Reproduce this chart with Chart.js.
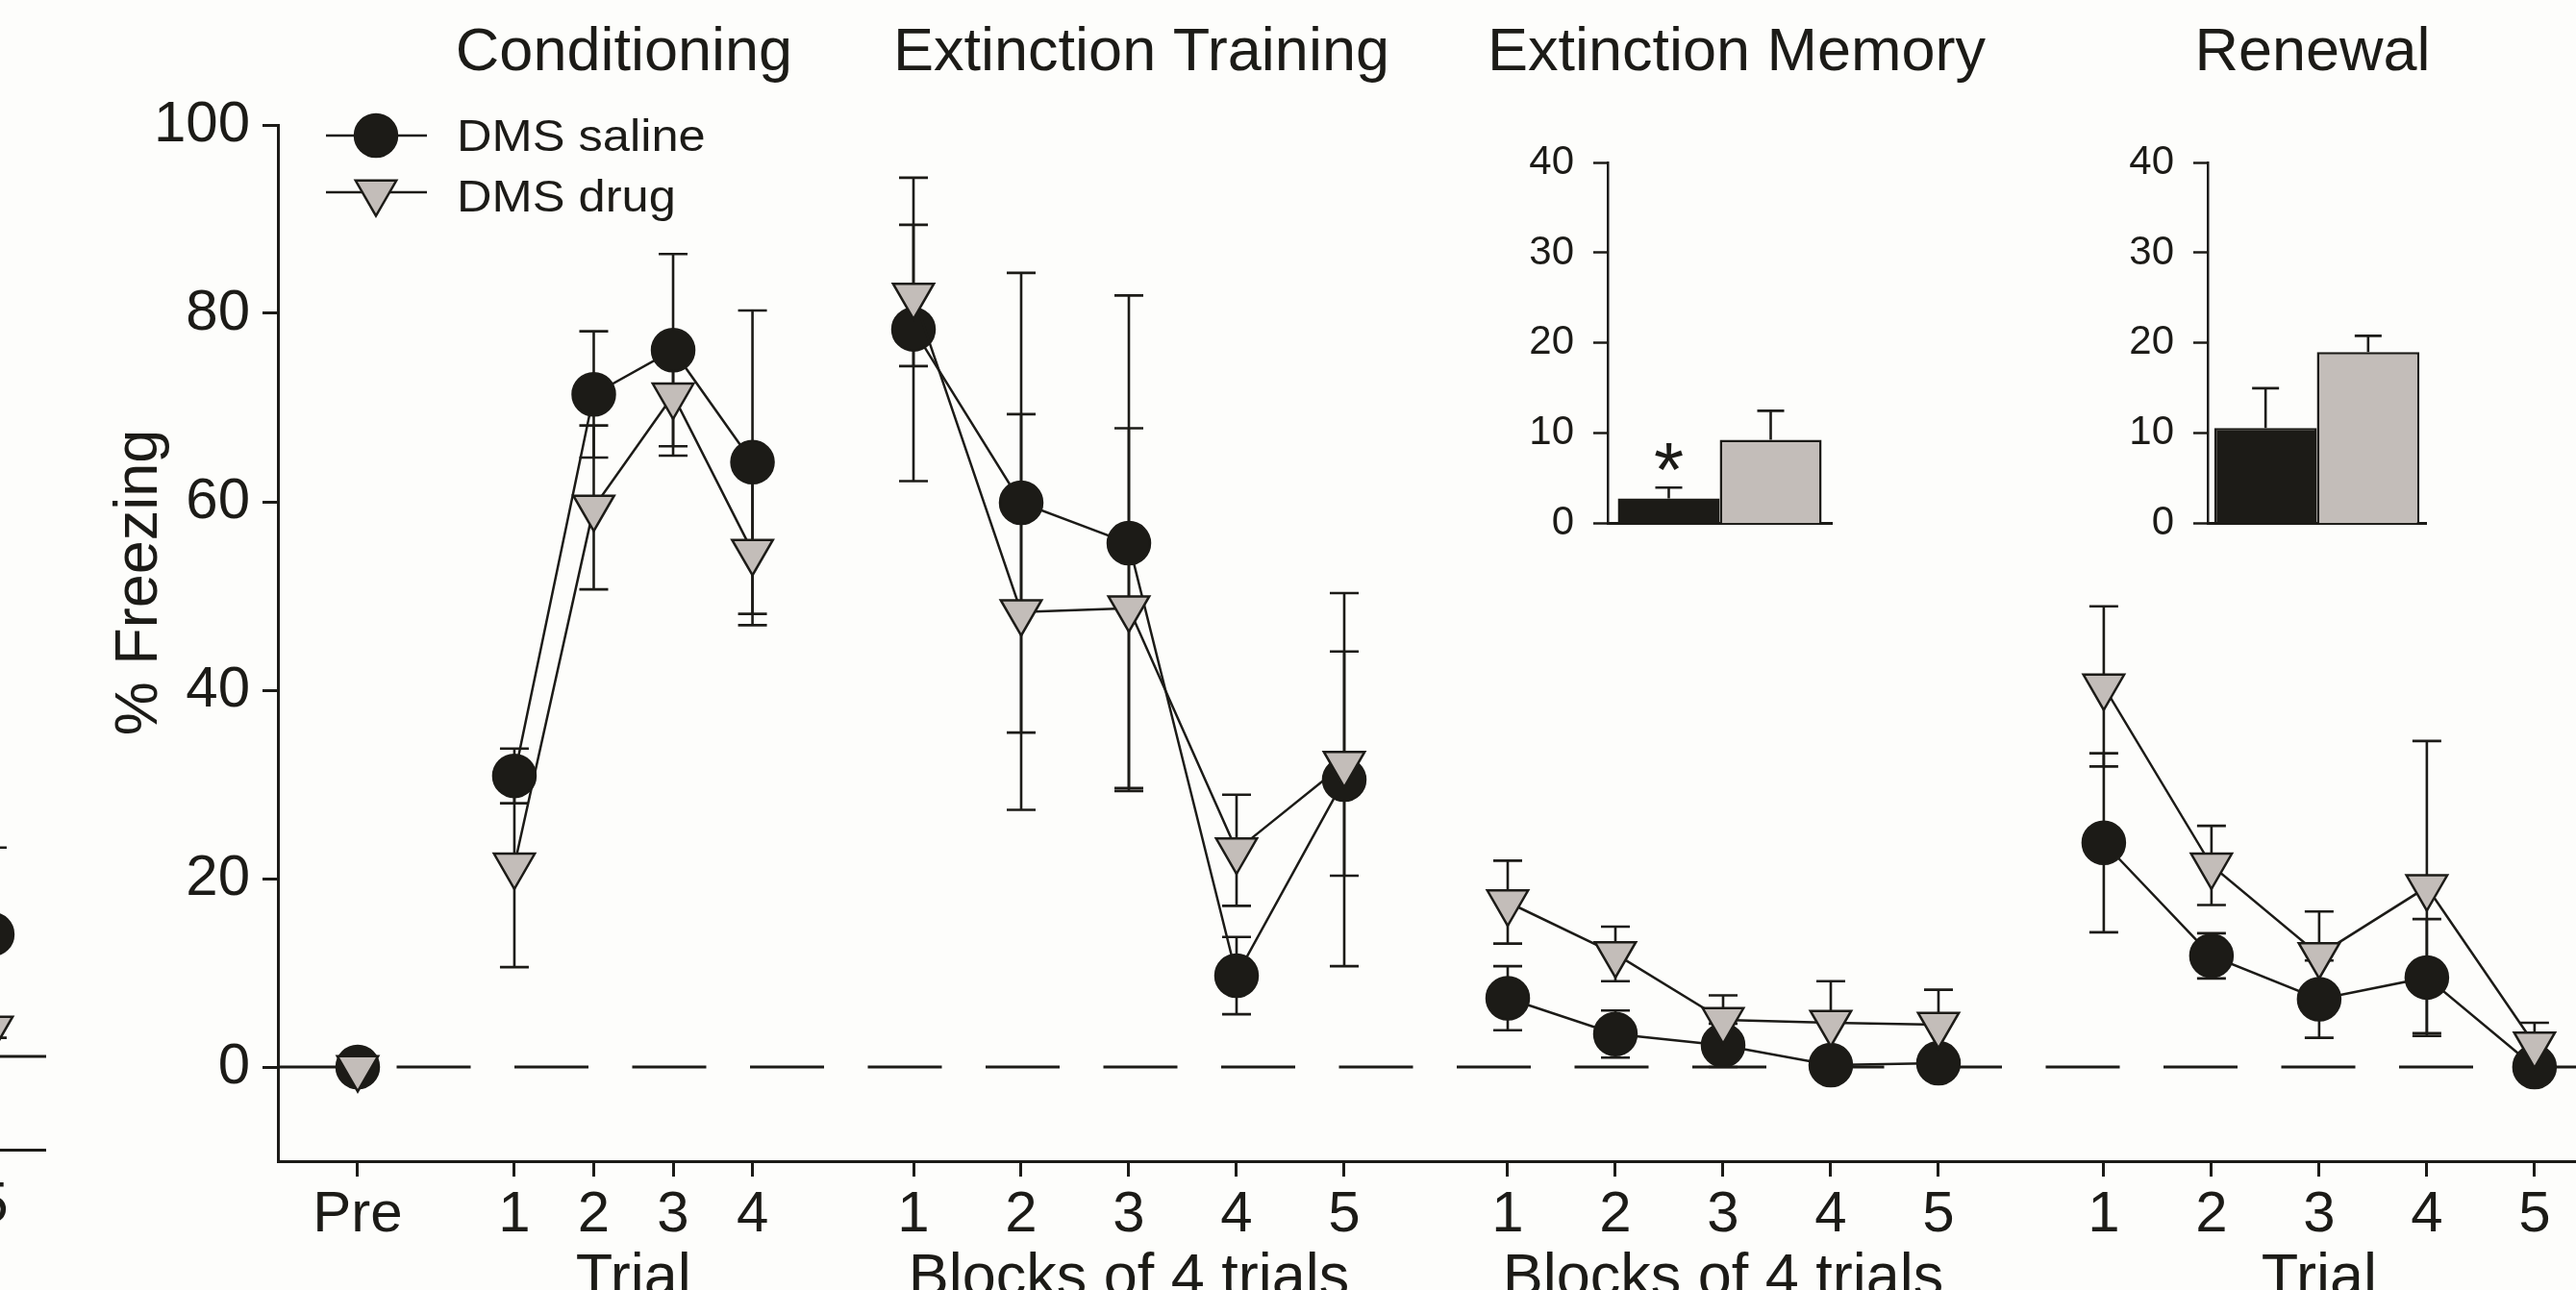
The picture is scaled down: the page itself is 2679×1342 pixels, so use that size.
<!DOCTYPE html>
<html>
<head>
<meta charset="utf-8">
<title>% Freezing across phases</title>
<script src="https://cdn.jsdelivr.net/npm/chart.js"></script>
<style>
  html, body { margin: 0; padding: 0; background: #fdfdfb; overflow: hidden; }
  #wrap { position: relative; width: 2679px; height: 1342px; overflow: hidden; }
  canvas { position: absolute; }
</style>
</head>
<body>
<div id="wrap">
  <canvas id="side" width="248" height="1342" style="left:-200px;top:0"></canvas>
  <canvas id="main" width="2679" height="1342" style="left:0;top:0"></canvas>
  <canvas id="inset1" width="360" height="470" style="left:1560px;top:120px"></canvas>
  <canvas id="inset2" width="360" height="470" style="left:2180px;top:120px"></canvas>
</div>
<script>
// ---------- data ----------
const seriesNames = ['DMS saline', 'DMS drug'];
const phaseTitles = ['Conditioning', 'Extinction Training', 'Extinction Memory', 'Renewal'];
const axisTitles = ['Trial', 'Blocks of 4 trials', 'Blocks of 4 trials', 'Trial'];
// group 0 is the "Pre" point, groups 1-4 are the four phases
const tickLabels = [['Pre'], ['1', '2', '3', '4'], ['1', '2', '3', '4', '5'], ['1', '2', '3', '4', '5'], ['1', '2', '3', '4', '5']];
const yTicks = [0, 20, 40, 60, 80, 100];

const salineMean = [[0], [30.9, 71.4, 76.1, 64.2], [78.3, 59.9, 55.6, 9.7, 30.5], [7.3, 3.5, 2.3, 0.2, 0.4], [23.8, 11.8, 7.2, 9.5, 0]];
const salineSem = [[0], [2.9, 6.7, 10.2, 16.1], [16.1, 24.4, 26.3, 4.1, 19.8], [3.4, 2.5, 2.3, 0.3, 0.3], [9.5, 2.4, 4.1, 6.2, 0.3]];
const drugMean = [[-0.1], [21.4, 59.4, 71.3, 54.7], [81.9, 48.3, 48.7, 23.0, 32.2], [17.5, 12.0, 5.0, 4.7, 4.5], [40.4, 21.4, 11.9, 19.1, 2.4]];
const drugSem = [[0], [10.8, 8.7, 6.4, 7.8], [7.5, 21.0, 19.1, 5.9, 11.9], [4.4, 2.9, 2.6, 4.4, 3.7], [8.5, 4.2, 4.6, 15.5, 2.3]];

// inset bar charts (mean of session)
const insetTicks = [0, 10, 20, 30, 40];
const memoryBarMean = [2.8, 9.3];
const memoryBarSem = [1.2, 3.2];
const renewalBarMean = [10.6, 19.0];
const renewalBarSem = [4.4, 1.8];

// edge of the neighbouring panel, cut off at the left
const sideSalineMean = [13.1];
const sideSalineSem = [9.3];
const sideDrugMean = [3.0];
const sideDrugSem = [1.0];
const sideTickLabel = '5';

// ---------- layout ----------
const INK = '#1c1b17';
const GREY = '#c3bdb9';
const FONT = "'Liberation Sans', Arial, sans-serif";
Chart.defaults.font.family = FONT;
Chart.defaults.color = INK;

const groupStart = [0.741, 2.196, 5.902, 11.42, 16.955];
const groupStep = [0, 0.737, 1, 1, 1];
const xMax = 21.34;
const titleX = [649, 1187, 1806, 2405];

const xPos = tickLabels.map((labels, g) => labels.map((_, i) => groupStart[g] + i * groupStep[g]));
const xFlat = xPos.flat();
const labelFlat = tickLabels.flat();

function buildSeries(means, sems) {
  const pts = [], errs = [];
  means.forEach((grp, g) => {
    if (g > 0) { pts.push({ x: xPos[g][0] - 0.5, y: null }); errs.push(null); }
    grp.forEach((v, i) => { pts.push({ x: xPos[g][i], y: v }); errs.push(sems[g][i]); });
  });
  return { pts, errs };
}
const sal = buildSeries(salineMean, salineSem);
const drg = buildSeries(drugMean, drugSem);

// ---------- plugins ----------
const errorBars = {
  id: 'errorBars',
  beforeDatasetsDraw(chart, args, opts) {
    const ctx = chart.ctx, ys = chart.scales.y;
    chart.data.datasets.forEach((ds, di) => {
      if (!ds.errors) return;
      const meta = chart.getDatasetMeta(di);
      ctx.save();
      ctx.strokeStyle = INK;
      ctx.lineWidth = 2.6;
      meta.data.forEach((el, i) => {
        const e = ds.errors[i];
        const raw = ds.data[i];
        const v = (raw && typeof raw === 'object') ? raw.y : raw;
        if (e == null || v == null) return;
        const x = el.x;
        const top = ys.getPixelForValue(v + e);
        const bot = opts.upOnly ? ys.getPixelForValue(v) : ys.getPixelForValue(v - e);
        const w = opts.cap / 2;
        ctx.beginPath();
        ctx.moveTo(x, top); ctx.lineTo(x, bot);
        ctx.moveTo(x - w, top); ctx.lineTo(x + w, top);
        if (!opts.upOnly) { ctx.moveTo(x - w, bot); ctx.lineTo(x + w, bot); }
        ctx.stroke();
      });
      ctx.restore();
    });
  }
};

const zeroLine = {
  id: 'zeroLine',
  beforeDatasetsDraw(chart, args, opts) {
    const ctx = chart.ctx, a = chart.chartArea;
    const y = chart.scales.y.getPixelForValue(0);
    ctx.save();
    ctx.strokeStyle = INK;
    ctx.lineWidth = 3;
    ctx.setLineDash(opts.dash || []);
    ctx.beginPath();
    ctx.moveTo(a.left + 1, y); ctx.lineTo(a.right, y);
    ctx.stroke();
    ctx.restore();
  }
};

function drawMarker(ctx, style, x, y, r, fill) {
  ctx.beginPath();
  if (style === 'circle') {
    ctx.arc(x, y, r, 0, Math.PI * 2);
  } else {
    ctx.moveTo(x, y + r);
    ctx.lineTo(x - r * Math.sin(Math.PI / 3), y - r / 2);
    ctx.lineTo(x + r * Math.sin(Math.PI / 3), y - r / 2);
    ctx.closePath();
  }
  ctx.fillStyle = fill;
  ctx.fill();
  ctx.lineWidth = 2.5;
  ctx.strokeStyle = INK;
  ctx.stroke();
}

const decorations = {
  id: 'decorations',
  afterDraw(chart) {
    const ctx = chart.ctx, xs = chart.scales.x;
    ctx.save();
    ctx.fillStyle = INK;
    // phase titles
    ctx.font = '63px ' + FONT;
    ctx.textAlign = 'center';
    ctx.textBaseline = 'alphabetic';
    phaseTitles.forEach((t, i) => ctx.fillText(t, titleX[i], 73));
    // x axis titles, centred under each phase
    axisTitles.forEach((t, i) => {
      const g = xPos[i + 1];
      const cx = (xs.getPixelForValue(g[0]) + xs.getPixelForValue(g[g.length - 1])) / 2;
      ctx.fillText(t, cx, 1348);
    });
    // y axis title
    ctx.save();
    ctx.translate(163, 606);
    ctx.rotate(-Math.PI / 2);
    ctx.fillText('% Freezing', 0, 0);
    ctx.restore();
    // legend
    const rows = [
      { name: seriesNames[0], style: 'circle', r: 22, fill: INK, y: 141, base: 157 },
      { name: seriesNames[1], style: 'triangle', r: 24.5, fill: GREY, y: 200, base: 220 }
    ];
    ctx.font = '46px ' + FONT;
    ctx.textAlign = 'left';
    rows.forEach(row => {
      ctx.beginPath();
      ctx.strokeStyle = INK;
      ctx.lineWidth = 2.5;
      ctx.moveTo(339, row.y); ctx.lineTo(444, row.y);
      ctx.stroke();
      drawMarker(ctx, row.style, 391, row.y, row.r, row.fill);
      ctx.fillStyle = INK;
      ctx.save();
      ctx.translate(475, row.base);
      ctx.scale(1.1, 1);
      ctx.fillText(row.name, 0, 0);
      ctx.restore();
    });
    ctx.restore();
  }
};

const tickStyle = { display: true, drawOnChartArea: false, drawTicks: true, tickLength: 16, tickWidth: 3, tickColor: INK, color: INK };
const borderStyle = { display: true, color: INK, width: 3 };

// ---------- main chart ----------
new Chart(document.getElementById('main'), {
  type: 'line',
  data: {
    datasets: [
      {
        label: seriesNames[0], data: sal.pts, errors: sal.errs, order: 1,
        borderColor: INK, borderWidth: 2.5, spanGaps: false,
        pointStyle: 'circle', pointRadius: 22, pointBackgroundColor: INK,
        pointBorderColor: INK, pointBorderWidth: 2.5
      },
      {
        label: seriesNames[1], data: drg.pts, errors: drg.errs, order: 0,
        borderColor: INK, borderWidth: 2.5, spanGaps: false,
        pointStyle: 'triangle', pointRotation: 180, pointRadius: 24.5, pointBackgroundColor: GREY,
        pointBorderColor: INK, pointBorderWidth: 2.5
      }
    ]
  },
  options: {
    responsive: false, animation: false, devicePixelRatio: 1, events: [],
    layout: { autoPadding: false, padding: { top: 130, right: 0, bottom: 0, left: 0 } },
    plugins: {
      legend: { display: false }, tooltip: { enabled: false },
      errorBars: { cap: 30, upOnly: false },
      zeroLine: { dash: [77, 45.5] }
    },
    scales: {
      x: {
        type: 'linear', min: 0, max: xMax,
        afterBuildTicks: s => { s.ticks = xFlat.map(v => ({ value: v })); },
        afterFit: s => { s.height = 134; },
        ticks: { autoSkip: false, maxRotation: 0, padding: 4, font: { size: 60 }, color: INK, callback: (v, i) => labelFlat[i] },
        grid: tickStyle, border: borderStyle
      },
      y: {
        min: -10, max: 100,
        afterBuildTicks: s => { s.ticks = yTicks.map(v => ({ value: v })); },
        afterFit: s => { s.width = 289; },
        ticks: { padding: 13, font: { size: 60 }, color: INK },
        grid: tickStyle, border: borderStyle
      }
    }
  },
  plugins: [zeroLine, errorBars, decorations]
});

// ---------- insets ----------
function inset(id, means, sems, axisW, padRight, catPct, star) {
  const starMark = {
    id: 'starMark',
    afterDatasetsDraw(chart) {
      if (!star) return;
      const el = chart.getDatasetMeta(0).data[0];
      const y = chart.scales.y.getPixelForValue(8);
      const ctx = chart.ctx;
      ctx.save();
      ctx.fillStyle = INK;
      ctx.font = '80px ' + FONT;
      ctx.textAlign = 'center';
      ctx.textBaseline = 'alphabetic';
      ctx.fillText('*', el.x, y + 46);
      ctx.restore();
    }
  };
  new Chart(document.getElementById(id), {
    type: 'bar',
    data: {
      labels: [''],
      datasets: [
        { label: seriesNames[0], data: [means[0]], errors: [sems[0]], backgroundColor: INK, borderColor: INK, borderWidth: 2.5 },
        { label: seriesNames[1], data: [means[1]], errors: [sems[1]], backgroundColor: GREY, borderColor: INK, borderWidth: 2.5 }
      ]
    },
    options: {
      responsive: false, animation: false, devicePixelRatio: 1, events: [],
      layout: { autoPadding: false, padding: { top: 49, right: padRight, bottom: 39, left: 0 } },
      datasets: { bar: { categoryPercentage: catPct, barPercentage: 1 } },
      plugins: {
        legend: { display: false }, tooltip: { enabled: false },
        errorBars: { cap: 28, upOnly: true }
      },
      scales: {
        x: {
          ticks: { display: false },
          grid: { display: false },
          border: { display: true, color: INK, width: 3 },
          afterFit: s => { s.height = 0; }
        },
        y: {
          min: 0, max: 40,
          afterBuildTicks: s => { s.ticks = insetTicks.map(v => ({ value: v })); },
          afterFit: s => { s.width = axisW; },
          ticks: { padding: 20, font: { size: 42 }, color: INK },
          grid: { display: true, drawOnChartArea: false, tickLength: 15, tickWidth: 2.5, tickColor: INK },
          border: { display: true, color: INK, width: 2.5 }
        }
      }
    },
    plugins: [errorBars, starMark]
  });
}
inset('inset1', memoryBarMean, memoryBarSem, 112, 15, 0.91, true);
inset('inset2', renewalBarMean, renewalBarSem, 116, 17, 0.94, false);

// ---------- cut-off neighbour panel (mostly outside the page) ----------
const sideX = 0.774;
const sideLabel = {
  id: 'sideLabel',
  afterDraw(chart) {
    const ctx = chart.ctx;
    ctx.save();
    ctx.fillStyle = INK;
    ctx.font = '60px ' + FONT;
    ctx.textAlign = 'center';
    ctx.textBaseline = 'alphabetic';
    ctx.fillText(sideTickLabel, chart.scales.x.getPixelForValue(sideX), 1271);
    ctx.restore();
  }
};
new Chart(document.getElementById('side'), {
  type: 'line',
  data: {
    datasets: [
      { data: [{ x: sideX, y: sideSalineMean[0] }], errors: sideSalineSem, order: 1,
        pointStyle: 'circle', pointRadius: 22, pointBackgroundColor: INK, pointBorderColor: INK, pointBorderWidth: 2.5 },
      { data: [{ x: sideX, y: sideDrugMean[0] }], errors: sideDrugSem, order: 0,
        pointStyle: 'triangle', pointRotation: 180, pointRadius: 24.5, pointBackgroundColor: GREY, pointBorderColor: INK, pointBorderWidth: 2.5 }
    ]
  },
  options: {
    responsive: false, animation: false, devicePixelRatio: 1, events: [],
    layout: { autoPadding: false, padding: { top: 129, right: 0, bottom: 146, left: 0 } },
    plugins: { legend: { display: false }, tooltip: { enabled: false }, errorBars: { cap: 30, upOnly: false }, zeroLine: { dash: [] } },
    scales: {
      x: { type: 'linear', min: 0, max: 1, ticks: { display: false }, grid: { display: false },
           border: { display: true, color: INK, width: 3 }, afterFit: s => { s.height = 0; } },
      y: { display: false, min: -10, max: 100 }
    }
  },
  plugins: [zeroLine, errorBars, sideLabel]
});
</script>
</body>
</html>
